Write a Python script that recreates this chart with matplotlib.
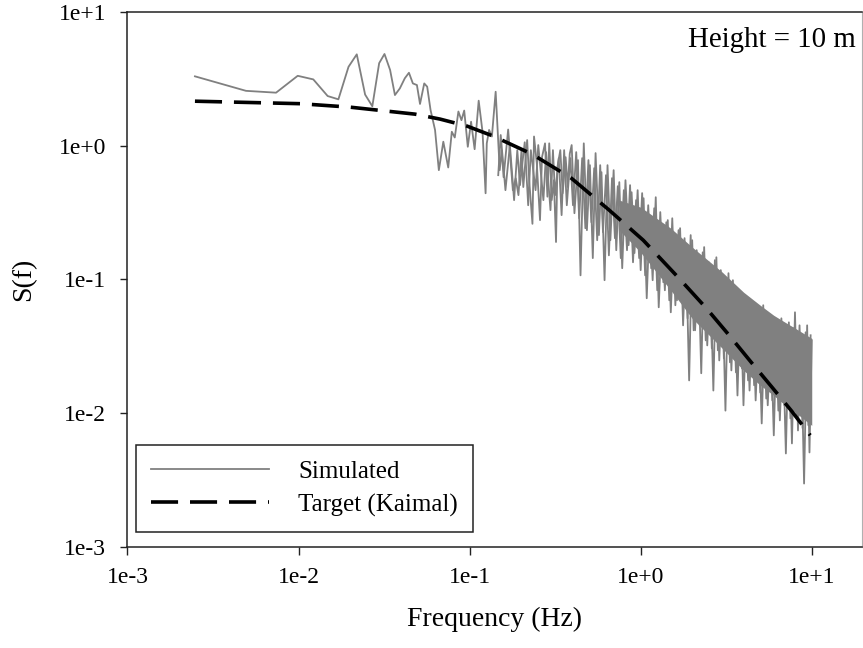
import numpy as np
import matplotlib
matplotlib.use('Agg')
import matplotlib.pyplot as plt
from matplotlib.ticker import FixedLocator, FixedFormatter, NullLocator

plt.rcParams['font.family'] = ['Liberation Serif', 'DejaVu Serif']

# Simulated spectrum, low frequencies (single points readable)
freq_low = [0.00248, 0.00493, 0.00739, 0.00989, 0.0122, 0.0148, 0.0171, 0.0196, 0.0219, 0.0245,
            0.0270, 0.0296, 0.0318, 0.0343, 0.0366, 0.0391, 0.0418, 0.0442, 0.0466, 0.0492,
            0.0513, 0.0543, 0.0565, 0.0591, 0.0628, 0.0661, 0.0702, 0.0750, 0.0787, 0.0819,
            0.0860, 0.0896, 0.0930, 0.0976, 0.102, 0.107, 0.113, 0.119, 0.124, 0.126,
            0.130, 0.135, 0.142, 0.150, 0.154, 0.158, 0.168, 0.179, 0.186, 0.193,
            0.201, 0.206, 0.217, 0.223, 0.233, 0.238, 0.247, 0.258, 0.265, 0.276,
            0.285, 0.292, 0.302, 0.311, 0.320, 0.326, 0.339, 0.350, 0.364, 0.375, 0.385]
psd_low = [3.30, 2.57, 2.49, 3.33, 3.13, 2.35, 2.22, 3.89, 4.82, 2.41,
           1.97, 4.14, 4.85, 3.68, 2.39, 2.68, 3.19, 3.51, 2.92, 2.84,
           2.05, 2.92, 2.76, 1.85, 1.31, 0.655, 1.07, 0.686, 1.27, 1.15,
           1.80, 1.55, 1.83, 0.98, 1.51, 0.94, 2.17, 1.27, 0.44, 1.04,
           1.31, 1.17, 2.53, 0.655, 0.925, 0.58, 1.32, 0.464, 0.57, 0.426,
           0.925, 0.49, 1.10, 0.551, 0.26, 1.17, 0.74, 0.277, 0.82, 1.04,
           0.415, 1.04, 0.391, 0.551, 0.19, 0.69, 0.925, 0.44, 0.82, 0.49, 0.87]

# Simulated spectrum, dense high-frequency part (spike tops and bottoms)
freq_high = [0.395, 0.41, 0.43, 0.445, 0.465, 0.485, 0.505, 0.525, 0.545, 0.57,
             0.59, 0.615, 0.64, 0.665, 0.695, 0.72, 0.75, 0.78, 0.815, 0.85,
             0.885, 0.92, 0.96, 1.0, 1.04, 1.085, 1.13, 1.175, 1.225, 1.275,
             1.33, 1.385, 1.44, 1.5, 1.56, 1.63, 1.7, 1.77, 1.84, 1.92,
             2.0, 2.08, 2.17, 2.26, 2.35, 2.45, 2.55, 2.66, 2.77, 2.88,
             3.0, 3.13, 3.26, 3.39, 3.53, 3.68, 3.83, 3.99, 4.16, 4.33,
             4.51, 4.7, 4.9, 5.1, 5.31, 5.53, 5.76, 6.0, 6.25, 6.51,
             6.78, 7.06, 7.35, 7.66, 7.98, 8.31, 8.66, 9.02, 9.4, 9.7, 10.0]
psd_high = [1.01, 0.312, 0.779, 0.107, 1.04, 0.233, 0.714, 0.144, 0.879, 0.214,
            0.633, 0.0984, 0.714, 0.196, 0.655, 0.165, 0.533, 0.121, 0.551, 0.180,
            0.448, 0.157, 0.464, 0.117, 0.404, 0.0721, 0.30, 0.0984, 0.411, 0.0617,
            0.23, 0.0827, 0.277, 0.0566, 0.20, 0.0696, 0.241, 0.0452, 0.17, 0.0175,
            0.196, 0.0415, 0.135, 0.0198, 0.174, 0.0320, 0.115, 0.0147, 0.146, 0.0247,
            0.098, 0.0104, 0.111, 0.0208, 0.082, 0.0135, 0.0799, 0.0114, 0.064, 0.0147,
            0.0639, 0.0124, 0.045, 0.00834, 0.0510, 0.0114, 0.040, 0.00679, 0.0452, 0.00879,
            0.034, 0.00497, 0.0476, 0.00591, 0.0566, 0.00739, 0.036, 0.00296, 0.0452, 0.00506, 0.0349]

# Simulated spectrum, in-between bins (smaller excursions)
freq_mid = [0.147, 0.152, 0.162, 0.172, 0.182, 0.19, 0.197, 0.21, 0.22, 0.228,
            0.243, 0.252, 0.27, 0.28, 0.297, 0.307, 0.316, 0.332, 0.345, 0.357,
            0.37, 0.388, 0.402, 0.42, 0.437, 0.455, 0.475, 0.495, 0.515, 0.535,
            0.557, 0.58, 0.602, 0.627, 0.652, 0.68, 0.707, 0.735, 0.765, 0.797,
            0.832, 0.867, 0.902, 0.94, 0.98, 1.02, 1.062, 1.107, 1.152, 1.2,
            1.25, 1.302, 1.357, 1.412, 1.47, 1.53, 1.595, 1.665, 1.735, 1.805,
            1.88, 1.96, 2.04, 2.125, 2.215, 2.305, 2.4, 2.5, 2.605, 2.715,
            2.825, 2.94, 3.065, 3.195, 3.325, 3.46, 3.605, 3.755, 3.91, 4.075,
            4.245, 4.42, 4.605, 4.8, 5.0, 5.205, 5.42, 5.645, 5.88, 6.125,
            6.38, 6.645, 6.92, 7.205, 7.505, 7.82, 8.145, 8.485, 8.84, 9.21,
            9.55, 9.85]
psd_mid = [0.601, 1.20, 0.464, 1.01, 0.391, 0.925, 0.506, 1.06, 0.358, 0.925,
           0.464, 1.01, 0.391, 0.894, 0.329, 0.925, 0.426, 0.806, 0.302, 0.925,
           0.358, 0.806, 0.358, 0.894, 0.286, 0.806, 0.241, 0.779, 0.267, 0.678,
           0.196, 0.714, 0.225, 0.601, 0.151, 0.571, 0.203, 0.497, 0.144, 0.464,
           0.165, 0.506, 0.134, 0.391, 0.144, 0.441, 0.107, 0.358, 0.121, 0.340,
           0.0827, 0.318, 0.0950, 0.267, 0.0696, 0.286, 0.0639, 0.233, 0.0721, 0.203,
           0.0510, 0.214, 0.0415, 0.165, 0.0452, 0.159, 0.0349, 0.134, 0.0304, 0.139,
           0.0294, 0.117, 0.0256, 0.0950, 0.0239, 0.0984, 0.0201, 0.0759, 0.0215, 0.0721,
           0.0175, 0.0696, 0.0161, 0.0606, 0.0142, 0.0639, 0.0128, 0.0537, 0.0124, 0.0493,
           0.0104, 0.0510, 0.0114, 0.0445, 0.0091, 0.0430, 0.0096, 0.0452, 0.0077, 0.0401,
           0.0081, 0.0381]

# Dense core of the simulated band
core_freq = [0.75, 1.0, 1.5, 2.0, 3.0, 4.0, 5.0, 6.0, 7.0, 8.0, 10.0]
core_hi = [0.391, 0.346, 0.241, 0.174, 0.113, 0.0799, 0.0639, 0.0537, 0.0476, 0.0430, 0.0361]
core_lo = [0.233, 0.159, 0.0827, 0.0510, 0.0304, 0.0208, 0.0161, 0.0135, 0.0114, 0.0101, 0.00806]

# Target Kaimal spectrum
kaimal_freq = [0.00248, 0.0102, 0.0200, 0.048, 0.0671, 0.0966, 0.137, 0.232, 0.393,
               0.655, 1.035, 1.66, 2.42, 3.29, 4.43, 5.80, 7.59, 9.80]
kaimal_psd = [2.15, 2.06, 1.94, 1.72, 1.58, 1.40, 1.18, 0.863, 0.571,
              0.329, 0.196, 0.103, 0.0607, 0.0381, 0.0239, 0.0158, 0.0104, 0.00680]

xticks = [1e-3, 1e-2, 1e-1, 1e0, 1e1]
xtick_labels = ['1e-3', '1e-2', '1e-1', '1e+0', '1e+1']
yticks = [1e-3, 1e-2, 1e-1, 1e0, 1e1]
ytick_labels = ['1e-3', '1e-2', '1e-1', '1e+0', '1e+1']

freq_sim = freq_low + freq_high
psd_sim = psd_low + psd_high

fig = plt.figure(figsize=(8.63, 6.48), dpi=100)
ax = fig.add_axes([0.1477, 0.1566, 0.8511, 0.8249])

gris = '#808080'
ax.fill_between(core_freq, core_lo, core_hi, color=gris, lw=0)
ax.plot(freq_mid, psd_mid, color=gris, lw=1.3)
ax.plot(freq_sim, psd_sim, color=gris, lw=1.3, label='Simulated')
ax.plot(kaimal_freq, kaimal_psd, color='black', lw=2.6, dashes=(7.5, 3.3),
        label='Target (Kaimal)', zorder=4)

ax.set_xscale('log')
ax.set_yscale('log')
ax.set_xlim(1e-3, 19.66)
ax.set_ylim(1e-3, 1e1)

ax.xaxis.set_major_locator(FixedLocator(xticks))
ax.xaxis.set_major_formatter(FixedFormatter(xtick_labels))
ax.yaxis.set_major_locator(FixedLocator(yticks))
ax.yaxis.set_major_formatter(FixedFormatter(ytick_labels))
ax.xaxis.set_minor_locator(NullLocator())
ax.yaxis.set_minor_locator(NullLocator())
ax.tick_params(axis='both', direction='out', length=5.4, width=1.0, color='#222222',
               labelsize=17)
ax.tick_params(axis='x', pad=9)
ax.tick_params(axis='y', pad=10)

for side in ['left', 'bottom', 'top']:
    ax.spines[side].set_color('#222222')
    ax.spines[side].set_linewidth(1.1)
ax.spines['right'].set_color('#b0b0b0')
ax.spines['right'].set_linewidth(0.8)

ax.set_xlabel('Frequency (Hz)', fontsize=20, labelpad=14)
ax.set_ylabel('S(f)', fontsize=20, labelpad=16)

ax.text(0.991, 0.948, 'Height = 10 m', transform=ax.transAxes, ha='right', va='center',
        fontsize=20.8)

leg = ax.legend(loc='lower left', bbox_to_anchor=(0.0116, 0.0271), borderaxespad=0,
                fontsize=18, handlelength=4.7, handletextpad=1.16, labelspacing=0.42,
                borderpad=0.62, fancybox=False, framealpha=1, edgecolor='#222222')
leg.get_frame().set_linewidth(1.1)

fig.savefig('out.png', dpi=100)
